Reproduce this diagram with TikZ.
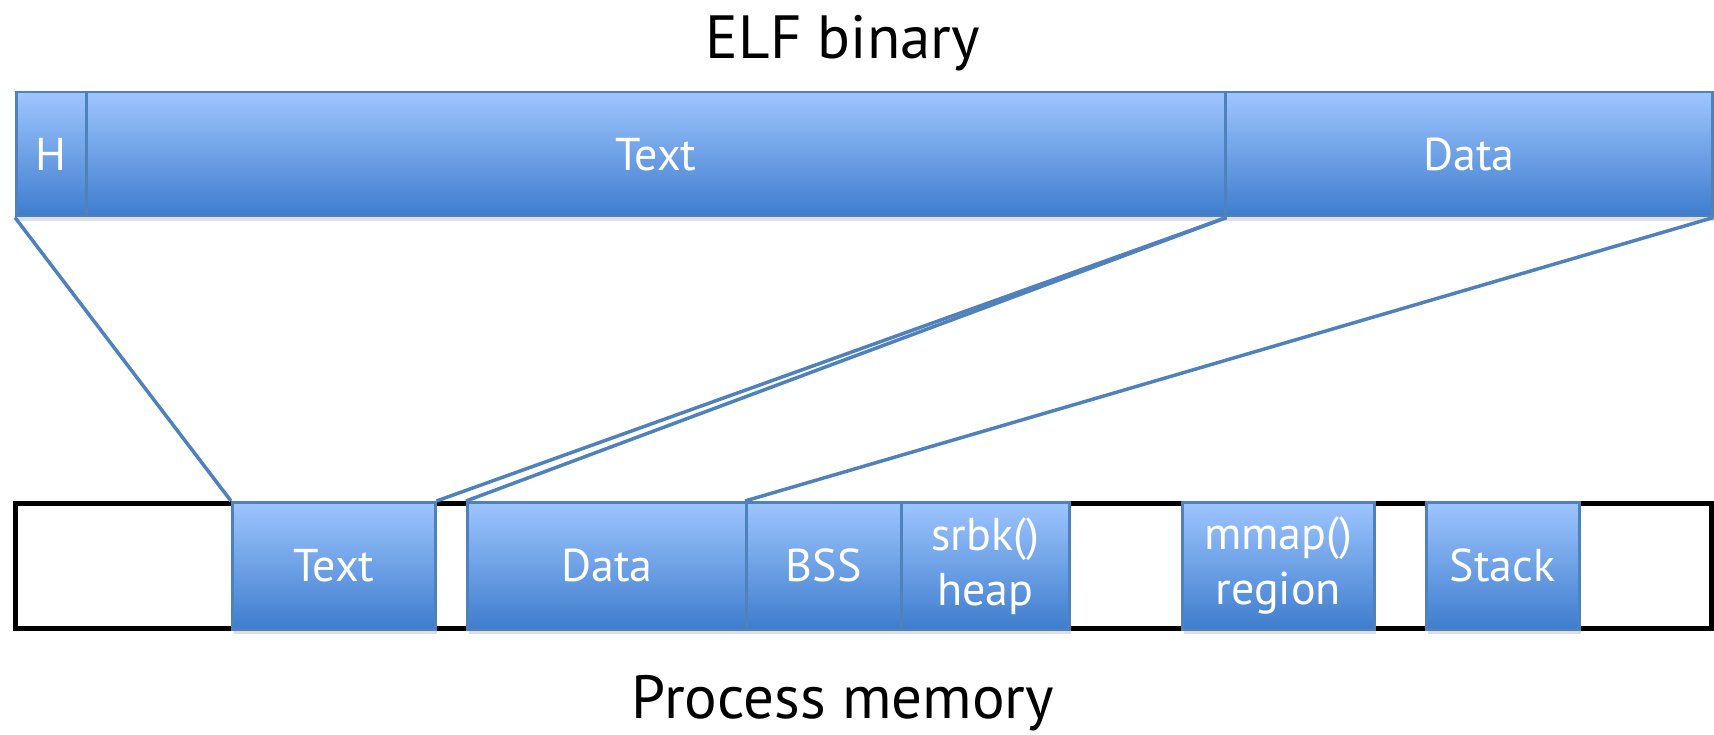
\documentclass[tikz,border=0pt]{standalone}
\usepackage{fontspec}
\setmainfont{PT Sans}
\usetikzlibrary{shadows}
\definecolor{boxtop}{RGB}{158,197,255}
\definecolor{boxbot}{RGB}{62,125,205}
\definecolor{boxline}{RGB}{79,129,189}
\tikzset{
  seg/.style={draw=boxline, line width=2.5pt, top color=boxtop, bottom color=boxbot,
    anchor=north west, inner sep=0pt, text=white, align=center,
    font=\fontsize{46}{55}\selectfont,
    drop shadow={opacity=0.25, shadow xshift=2pt, shadow yshift=-5pt}},
  link/.style={draw=boxline, line width=3.5pt},
  title/.style={font=\fontsize{61}{64}\selectfont, text=black}
}
\begin{document}
\begin{tikzpicture}[x=1pt, y=-1pt]
\useasboundingbox (0,0) rectangle (1714,735);
\node[title] (elftitle) at (843,43) {ELF binary};
\node[title] (proctitle) at (843,703) {Process memory};
% memory outline
\node[draw=black, line width=4.5pt, anchor=north west, minimum width=1696pt, minimum height=125pt, inner sep=0pt] (mem) at (13,501) {};
% ELF segments
\node[seg, minimum width=70pt, minimum height=124pt] (eH) at (15,91) {H};
\node[seg, minimum width=1139pt, minimum height=124pt] (eText) at (85,91) {Text};
\node[seg, minimum width=487pt, minimum height=124pt] (eData) at (1224,91) {Data};
% memory segments
\node[seg, minimum width=203pt, minimum height=127pt] (mText) at (231,501) {Text};
\node[seg, minimum width=279pt, minimum height=127pt] (mData) at (466,501) {Data};
\node[seg, minimum width=155pt, minimum height=127pt] (mBSS) at (745,501) {BSS};
\node[seg, minimum width=168pt, minimum height=127pt] (mHeap) at (900,501) {srbk()\\heap};
\node[seg, minimum width=192pt, minimum height=127pt] (mMmap) at (1181,501) {mmap()\\region};
\node[seg, minimum width=153pt, minimum height=127pt] (mStack) at (1425,501) {Stack};
% links
\draw[link] (eH.south west) -- (mText.north west);
\draw[link] (eText.south east) -- (mText.north east);
\draw[link] (eText.south east) -- (mData.north west);
\draw[link] (eData.south east) -- (mBSS.north west);
\end{tikzpicture}
\end{document}
